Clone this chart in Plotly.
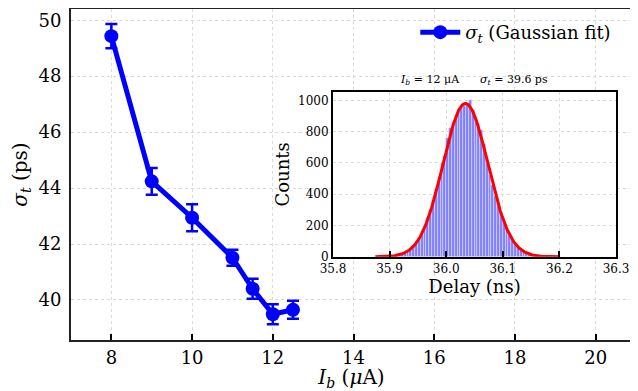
import numpy as np
import plotly.graph_objects as go

# Main series
bias_current = [8, 9, 10, 11, 11.5, 12, 12.5]
jitter_ps = [49.43, 44.24, 42.94, 41.51, 40.40, 39.49, 39.65]
jitter_err = [0.43, 0.48, 0.48, 0.29, 0.36, 0.36, 0.32]
x_ticks_main = [8, 10, 12, 14, 16, 18, 20]
y_ticks_main = [40, 42, 44, 46, 48, 50]

# Inset histogram (bin centers in ns, counts)
hist_centers = [round(35.8725 + 0.005 * k, 4) for k in range(66)]
hist_counts = [0, 1, 1, 1, 2, 3, 4, 6, 9, 13, 19, 26, 37, 50, 70, 92, 120, 150, 195, 245,
               300, 360, 430, 510, 600, 645, 760, 820, 835, 900, 935, 960, 965, 985, 1005, 940,
               890, 850, 810, 720, 600, 520, 460, 390, 330, 270, 220, 175, 137, 106,
               81, 60, 44, 32, 23, 16, 11, 8, 5, 3, 2, 1, 1, 0, 1, 0]
fit_amp, fit_mu, fit_sigma = 980.0, 36.034, 0.0396
fit_x = np.linspace(35.875, 36.2, 300)
fit_y = fit_amp * np.exp(-(fit_x - fit_mu) ** 2 / (2 * fit_sigma ** 2))
inset_x_ticks = [35.8, 35.9, 36.0, 36.1, 36.2, 36.3]
inset_y_ticks = [0, 200, 400, 600, 800, 1000]

FONT = "DejaVu Serif"
fig = go.Figure()

fig.add_trace(go.Scatter(
    x=bias_current, y=jitter_ps, mode="lines+markers",
    line=dict(color="#0000ff", width=5),
    marker=dict(color="#0000ff", size=14),
    error_y=dict(type="data", array=jitter_err, color="#0000ff", thickness=2.5, width=6),
    name="<i>σ</i><sub><i>t</i></sub> (Gaussian fit)",
    xaxis="x", yaxis="y", showlegend=True,
))

fig.add_trace(go.Bar(
    x=hist_centers, y=hist_counts, width=0.005,
    marker=dict(color="#8080ff", line=dict(color="rgba(255,255,255,0.6)", width=0.6)),
    xaxis="x2", yaxis="y2", showlegend=False,
))
fig.add_trace(go.Scatter(
    x=fit_x, y=fit_y, mode="lines", line=dict(color="#ff0000", width=3),
    xaxis="x2", yaxis="y2", showlegend=False,
))

grid = dict(showgrid=True, gridcolor="#dadada", griddash="dot", gridwidth=1, zeroline=False)

fig.update_layout(
    width=630, height=383,
    margin=dict(l=63, r=6, t=1, b=51, autoexpand=False),
    paper_bgcolor="white", plot_bgcolor="white",
    font=dict(family=FONT, color="#000"),
    bargap=0,
    xaxis=dict(domain=[0, 1], range=[7, 20.9], tickvals=x_ticks_main,
               ticks="inside", ticklen=6, tickwidth=2, tickcolor="#000",
               showline=True, linecolor="#222", linewidth=2, mirror=True,
               tickfont=dict(size=18, family=FONT), automargin=False,
               title=dict(text="<i>I</i><sub><i>b</i></sub> (<i>μ</i>A)", font=dict(size=20, family=FONT), standoff=2),
               **grid),
    yaxis=dict(domain=[0, 1], range=[38.57, 50.4], tickvals=y_ticks_main,
               ticks="", showline=True, linecolor="#222", linewidth=2, mirror=True,
               tickfont=dict(size=18, family=FONT), ticklabelstandoff=4, automargin=False,
               title=dict(text="<i>σ</i><sub><i>t</i></sub> (ps)", font=dict(size=20, family=FONT), standoff=8),
               **grid),
    xaxis2=dict(domain=[0.467, 0.9715], range=[35.8, 36.3], tickvals=inset_x_ticks,
                ticktext=["35.8", "35.9", "36.0", "36.1", "36.2", "36.3"],
                ticks="inside", ticklen=6, tickwidth=2, tickcolor="#000",
                showline=True, linecolor="#000", linewidth=2, mirror=True,
                tickfont=dict(size=12, family=FONT), anchor="y2", automargin=False,
                title=dict(text="Delay (ns)", font=dict(size=18, family=FONT), standoff=2),
                **grid),
    yaxis2=dict(domain=[0.2517, 0.749], range=[0, 1053], tickvals=inset_y_ticks,
                ticks="", showline=True, linecolor="#000", linewidth=2, mirror=True,
                tickfont=dict(size=12, family=FONT), anchor="x2", automargin=False,
                title=dict(text="Counts", font=dict(size=18, family=FONT), standoff=4),
                **grid),
    legend=dict(x=0.972, y=0.985, xanchor="right", yanchor="top",
                bgcolor="rgba(255,255,255,0)", font=dict(size=18, family=FONT),
                itemwidth=40),
    annotations=[dict(
        text="<i>I</i><sub><i>b</i></sub> = 12 μA      <i>σ</i><sub><i>t</i></sub> = 39.6 ps",
        xref="x2 domain", yref="y2 domain", x=0.5, y=1.0, xanchor="center", yanchor="bottom",
        yshift=3, showarrow=False, font=dict(size=11, family=FONT))],
)

fig.write_html("out.html")
